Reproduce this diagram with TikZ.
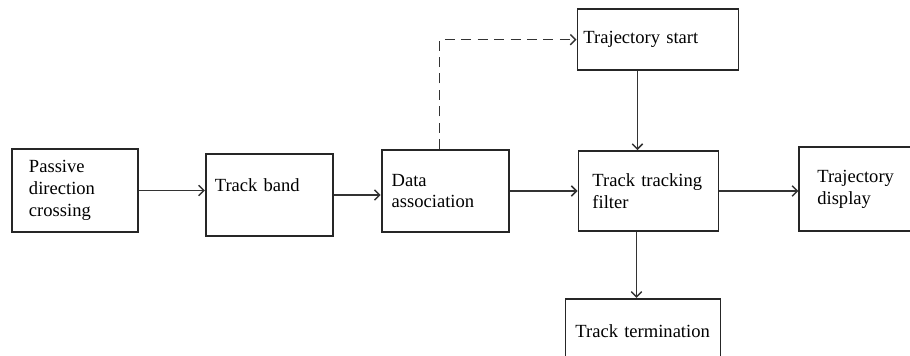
\documentclass[tikz,border=0pt]{standalone}
\usepackage{fontspec}
\setmainfont{Liberation Serif}
\usetikzlibrary{positioning, arrows.meta}

\begin{document}
\begin{tikzpicture}[
    block/.style={rectangle, draw=black!85, line width=1.3pt, align=left, inner ysep=0pt, font=\fontsize{13.2}{15.6}\selectfont},
    arrow/.style={-{Straight Barb[length=1.3mm, width=2.6mm]}, draw=black!80, line width=1.05pt},
    dasharrow/.style={arrow, dash pattern=on 2.5mm off 1.6mm}
  ]
    \clip (0,0) rectangle (22.75,-8.9);

    % Source block at the left
    \node[block, minimum width=3.15cm, minimum height=2.075cm, text width=2.3cm, inner xsep=0.425cm] (passive) at (1.875,-4.7625) {Passive\\direction\\crossing};

    % Main chain to the right
    \node[block, minimum width=3.175cm, minimum height=2.05cm, text width=2.725cm, inner xsep=0.225cm, text depth=0.5cm, right=1.65cm of passive, yshift=-0.1125cm] (band) {Track band};
    \node[block, minimum width=3.175cm, minimum height=2.05cm, text width=2.675cm, inner xsep=0.25cm, right=1.175cm of band, yshift=0.1cm] (assoc) {Data\\association};
    \node[block, minimum width=3.5cm, minimum height=2cm, text width=2.8cm, inner xsep=0.35cm, right=1.7cm of assoc] (filter) {Track tracking\\filter};
    \node[block, minimum width=2.925cm, minimum height=2.1cm, text width=2.025cm, inner xsep=0.45cm, right=1.975cm of filter, yshift=0.05cm] (display) {Trajectory\\display};

    % Start above and termination below the filter
    \node[block, minimum width=4.025cm, minimum height=1.525cm, text width=3.725cm, inner xsep=0.15cm, above=1.975cm of filter, xshift=0.2375cm] (start) {Trajectory start};
    \node[block, minimum width=3.875cm, minimum height=1.6cm, text width=3.375cm, inner xsep=0.25cm, below=1.65cm of filter, xshift=-0.1375cm] (term) {Track termination};

    % Connections
    \draw[arrow] (passive.east) -- (passive.east -| band.west);
    \draw[arrow] (band.east) -- (band.east -| assoc.west);
    \draw[arrow] (assoc.east) -- (assoc.east -| filter.west);
    \draw[arrow] (filter.east) -- (filter.east -| display.west);

    \coordinate (fin) at ([xshift=-2.75mm]filter.north);
    \coordinate (fout) at ([xshift=-3mm]filter.south);
    \coordinate (aup) at ([xshift=-1.4mm]assoc.north);
    \draw[arrow] (start.south -| fin) -- (fin);
    \draw[arrow] (fout) -- (fout |- term.north);
    \draw[dasharrow] (aup) |- (start.west);
  \end{tikzpicture}
\end{document}
